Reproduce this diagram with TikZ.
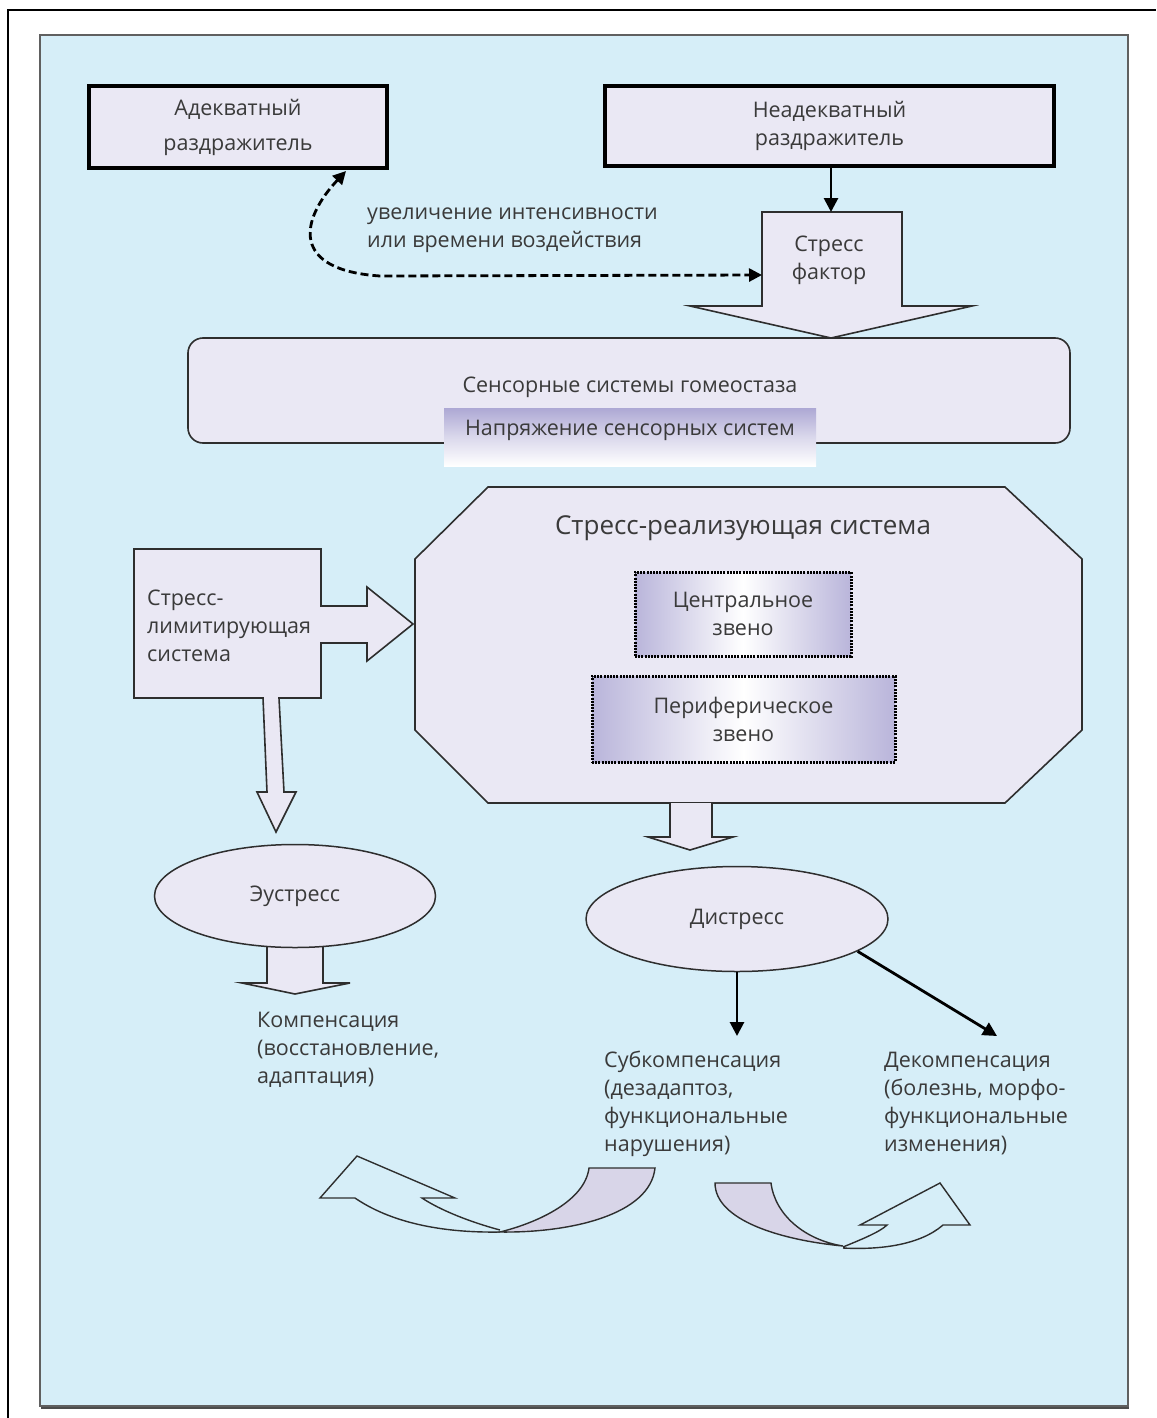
\documentclass[tikz,border=0pt]{standalone}
\usepackage{fontspec}
\setmainfont{Open Sans}
\usetikzlibrary{shapes.geometric,arrows.meta}
\definecolor{bgc}{HTML}{D6EEF8}
\definecolor{boxc}{HTML}{EAE8F4}
\definecolor{shadec}{HTML}{D8D5E8}
\definecolor{lavc}{HTML}{ADA8D4}
\definecolor{txtc}{HTML}{3A3A3A}
\definecolor{linec}{HTML}{2E2E2E}
\begin{document}
\begin{tikzpicture}[x=1pt,y=-1pt,
  every node/.style={font=\fontsize{21.5}{28}\selectfont, text=txtc},
  heavybox/.style={draw=black, line width=4pt, fill=boxc, align=center, inner sep=0pt},
  blk/.style={draw=linec, line width=1.6pt, fill=boxc, line join=miter},
  dotbox/.style={draw=black, line width=3pt, dash pattern=on 2pt off 1.2pt, left color=lavc!85, right color=lavc!85, middle color=white, align=center, inner sep=0pt},
  ell/.style={ellipse, draw=linec, line width=1.5pt, fill=boxc, inner sep=0pt},
  conn/.style={draw=black, line width=2.8pt, -{Triangle[length=14pt,width=14pt]}},
  curv/.style={draw=linec, line width=1.4pt, line join=miter},
  plain/.style={align=left, inner sep=0pt}
]
\useasboundingbox (0,0) rectangle (1156,1418);
% frame
\draw[line width=2pt] (8,1418) -- (8,10) -- (1156,10);
\fill[gray!60!black] (41,37) rectangle (1129,1409);
\draw[fill=bgc, draw=gray!75!black, line width=1.5pt] (40,35) rectangle (1128,1406);

% top boxes
\node[heavybox, minimum width=298, minimum height=82] (adeq) at (238,127) {Адекватный\\[7pt]раздражитель};
\node[heavybox, minimum width=449, minimum height=80] (neadeq) at (829.5,126) {Неадекватный\\раздражитель};

% stress factor block arrow
\draw[blk] (762,212) -- (902,212) -- (902,306) -- (972,306) -- (831,338) -- (690,306) -- (762,306) -- cycle;
\node[align=center, inner sep=0pt] (sf) at (829,260) {Стресс\\фактор};
\coordinate (sftop) at (831,212);
\draw[conn] (neadeq.south -| sftop) -- (sftop);

% dashed double arrow
\coordinate (dstart) at (346,171);
\coordinate (dend) at (762,275);
\draw[line width=2.8pt, dash pattern=on 8pt off 4pt, {Triangle[length=13pt,width=13pt]}-{Triangle[length=13pt,width=13pt]}]
  (dstart) .. controls (300,220) and (290,270) .. (380,276) -- (dend);
\node[plain, anchor=west] (lbl) at (367,230) {увеличение интенсивности\\или времени воздействия};

% sensory systems
\node[draw=linec, line width=1.6pt, rounded corners=15pt, fill=boxc, minimum width=882, minimum height=105, inner sep=0pt] (sens) at (629,390.5) {};
\node (senst) at (630,387) {Сенсорные системы гомеостаза};
\node[top color=lavc, bottom color=white, middle color=lavc!45, minimum width=372, minimum height=58, inner sep=0pt] (napr) at (630,437) {};
\node (naprt) at (630,430) {Напряжение сенсорных систем};

% octagon
\draw[blk] (488,487) -- (1005,487) -- (1082,559) -- (1082,730) -- (1005,803) -- (488,803) -- (415,730) -- (415,559) -- cycle;
\node[font=\fontsize{26}{30}\selectfont] (srs) at (743,528) {Стресс-реализующая система};
\node[dotbox, minimum width=216, minimum height=84] (cz) at (743,614) {Центральное\\звено};
\node[dotbox, minimum width=303, minimum height=86] (pz) at (743.5,719) {Периферическое\\звено};

% stress-limiting system block
\draw[blk] (134,549) -- (321,549) -- (321,606) -- (367,606) -- (367,587) -- (413,624) -- (367,661) -- (367,643) -- (321,643) -- (321,698)
  -- (279,698) -- (284,792) -- (296,792) -- (276,832) -- (257,792) -- (267,792) -- (263,698) -- (134,698) -- cycle;
\node[plain, anchor=west] (sls) at (147,626) {Стресс-\\лимитирующая\\система};

% arrow below octagon
\draw[blk] (670,803) -- (670,837) -- (648,837) -- (690,850) -- (733,837) -- (712,837) -- (712,803);

% eustress
\draw[blk] (267,930) -- (267,983) -- (242,983) -- (295,994) -- (350,983) -- (323,983) -- (323,930);
\node[ell, minimum width=281, minimum height=103] (eu) at (295,896) {Эустресс};
\node[plain, anchor=west] (komp) at (257,1050) {Компенсация\\(восстановление,\\адаптация)};

% distress
\node[ell, minimum width=302, minimum height=105] (dis) at (737,919) {Дистресс};
\coordinate (subend) at (737,1036);
\coordinate (dekend) at (997,1036);
\draw[conn] (dis.south) -- (subend);
\draw[conn] (dis.-15) -- (dekend);
\node[plain, anchor=west] (sub) at (604,1104) {Субкомпенсация\\(дезадаптоз,\\функциональные\\нарушения)};
\node[plain, anchor=west] (dek) at (884,1104) {Декомпенсация\\(болезнь, морфо-\\функциональные\\изменения)};

% bottom curved arrows
\draw[curv, fill=shadec] (589,1168) -- (655,1168) .. controls (650,1215) and (570,1233) .. (500,1232) .. controls (540,1222) and (585,1200) .. (589,1168) -- cycle;
\draw[curv] (500,1230) .. controls (470,1222) and (440,1210) .. (422,1198) -- (455,1198) -- (357,1156) -- (320,1198) -- (355,1198) .. controls (390,1222) and (440,1233) .. (500,1232);

\draw[curv, fill=shadec] (715,1183) -- (771,1183) .. controls (775,1215) and (805,1240) .. (843,1246) .. controls (780,1240) and (715,1220) .. (715,1183) -- cycle;
\draw[curv] (843,1247) .. controls (860,1240) and (880,1232) .. (887,1225) -- (860,1225) -- (940,1183) -- (970,1225) -- (943,1225) .. controls (920,1245) and (880,1250) .. (843,1248);
\end{tikzpicture}
\end{document}
